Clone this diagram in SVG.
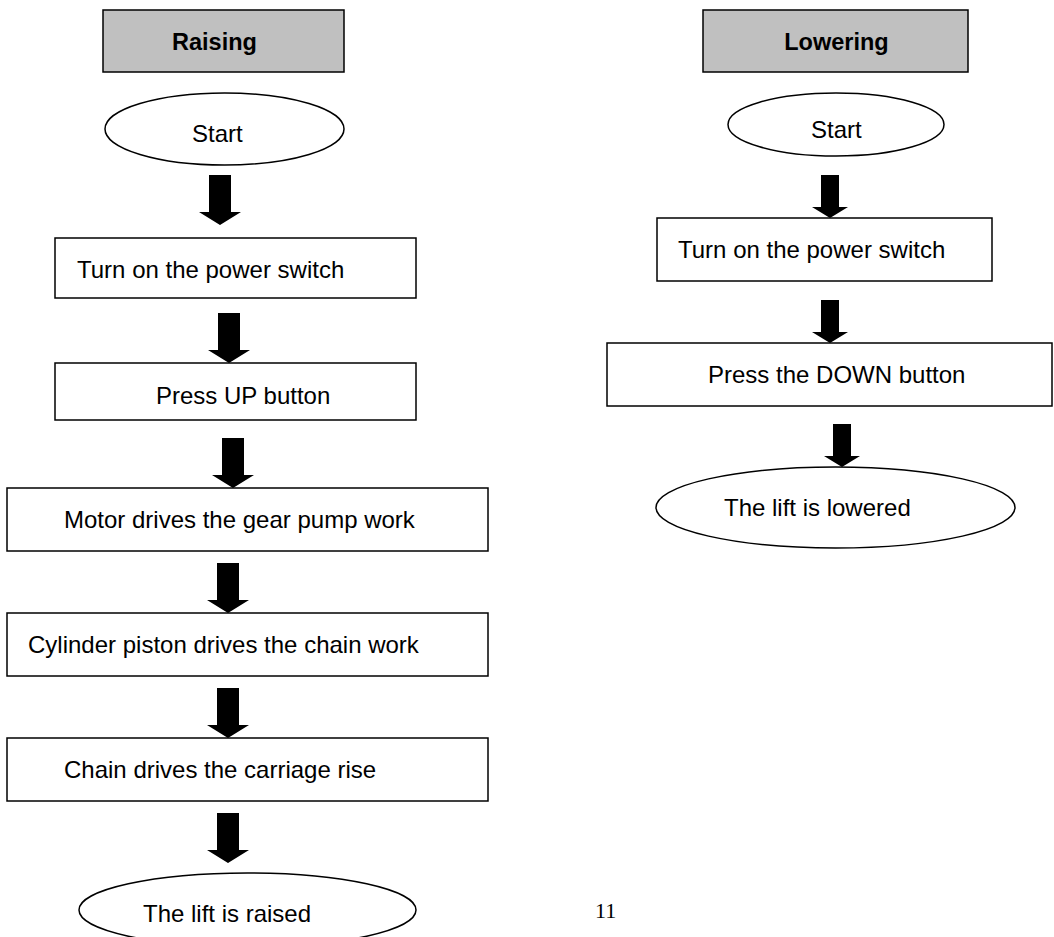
<svg xmlns="http://www.w3.org/2000/svg" xmlns:xlink="http://www.w3.org/1999/xlink" width="1054" height="937" viewBox="0 0 1054 937">
<style>
.hdr{fill:#c0c0c0;stroke:#000;stroke-width:1.5}
.box{fill:#fff;stroke:#000;stroke-width:1.5}
.ell{fill:#fff;stroke:#000;stroke-width:1.5}
.t{font-family:"Liberation Sans",Arial,sans-serif;font-size:24px;fill:#000}
.b{font-weight:bold;text-anchor:middle;font-size:23.5px}
.pg{font-family:"Liberation Serif","Times New Roman",serif;font-size:22px;fill:#000}
</style>
<defs>
<path id="arL" d="M-11,0 H11 V37 H21 L0,50 L-21,37 H-11 Z" fill="#000"/>
<path id="arR" d="M-9,0 H9 V32 H18 L0,43 L-18,32 H-9 Z" fill="#000"/>
</defs>
<rect width="1054" height="937" fill="#fff"/>

<g id="connectors">
<use xlink:href="#arL" href="#arL" transform="translate(220,175)"/>
<use xlink:href="#arL" href="#arL" transform="translate(229,313)"/>
<use xlink:href="#arL" href="#arL" transform="translate(233,438)"/>
<use xlink:href="#arL" href="#arL" transform="translate(228,563)"/>
<use xlink:href="#arL" href="#arL" transform="translate(228,688)"/>
<use xlink:href="#arL" href="#arL" transform="translate(228,813)"/>
<use xlink:href="#arR" href="#arR" transform="translate(830,175)"/>
<use xlink:href="#arR" href="#arR" transform="translate(830,300)"/>
<use xlink:href="#arR" href="#arR" transform="translate(842,424)"/>
</g>

<g id="raising">
<rect class="hdr" x="103" y="10" width="241" height="62"/>
<text class="t b" x="214.5" y="50">Raising</text>
</g>
<g id="start-left">
<ellipse class="ell" cx="224.5" cy="129" rx="119.5" ry="36"/>
<text class="t" x="192" y="142">Start</text>
</g>
<g id="power-left">
<rect class="box" x="55" y="238" width="361" height="60"/>
<text class="t" x="77" y="278">Turn on the power switch</text>
</g>
<g id="press-up">
<rect class="box" x="55" y="363" width="361" height="57"/>
<text class="t" x="156" y="404">Press UP button</text>
</g>
<g id="motor">
<rect class="box" x="7" y="488" width="481" height="63"/>
<text class="t" x="64" y="528">Motor drives the gear pump work</text>
</g>
<g id="cylinder">
<rect class="box" x="7" y="613" width="481" height="63"/>
<text class="t" x="28" y="653">Cylinder piston drives the chain work</text>
</g>
<g id="chain">
<rect class="box" x="7" y="738" width="481" height="63"/>
<text class="t" x="64" y="778">Chain drives the carriage rise</text>
</g>
<g id="raised">
<ellipse class="ell" cx="247.5" cy="910" rx="168.5" ry="37"/>
<text class="t" x="143" y="922">The lift is raised</text>
</g>

<g id="lowering">
<rect class="hdr" x="703" y="10" width="265" height="62"/>
<text class="t b" x="836.5" y="50">Lowering</text>
</g>
<g id="start-right">
<ellipse class="ell" cx="836" cy="124.5" rx="108" ry="31.5"/>
<text class="t" x="811" y="138">Start</text>
</g>
<g id="power-right">
<rect class="box" x="657" y="218" width="335" height="63"/>
<text class="t" x="678" y="258">Turn on the power switch</text>
</g>
<g id="press-down">
<rect class="box" x="607" y="343" width="445" height="63"/>
<text class="t" x="708" y="383">Press the DOWN button</text>
</g>
<g id="lowered">
<ellipse class="ell" cx="835.5" cy="507.5" rx="179.5" ry="40.5"/>
<text class="t" x="724" y="516">The lift is lowered</text>
</g>

<text class="pg" x="595" y="918">11</text>
</svg>
